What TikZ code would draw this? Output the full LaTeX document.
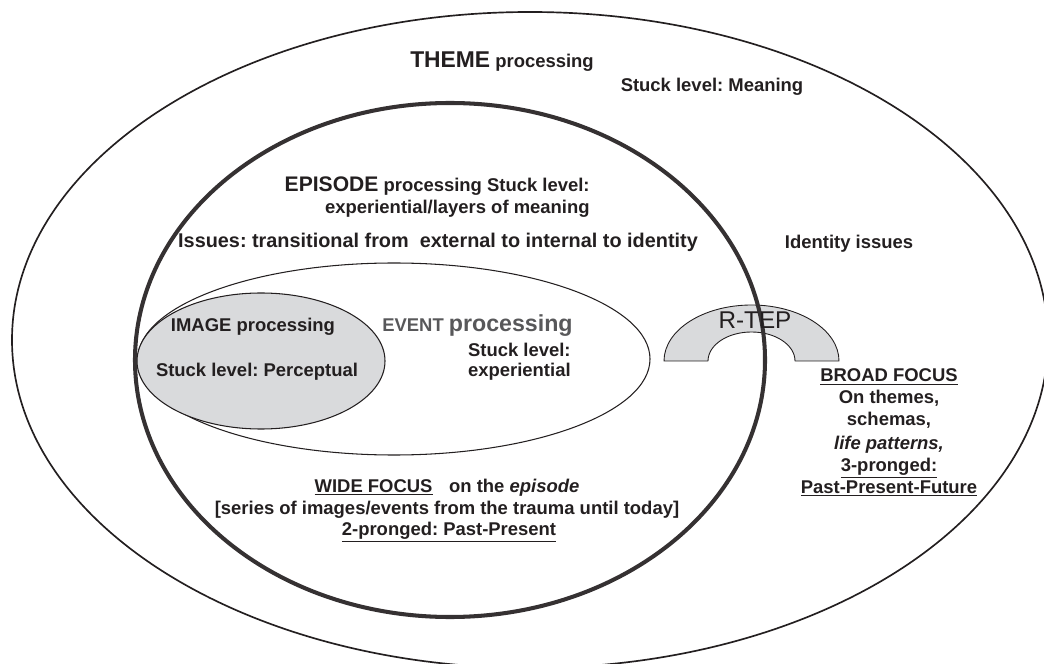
\documentclass[tikz,border=0pt]{standalone}
\usepackage{fontspec}
\setmainfont{Liberation Sans}
\frenchspacing
\definecolor{inkdark}{RGB}{35,31,32}
\definecolor{imggray}{RGB}{217,218,220}
\definecolor{eventgray}{RGB}{88,88,90}

\begin{document}
\begin{tikzpicture}[x=0.02cm,y=0.02cm,line cap=round,line join=round,
  txt/.style={font=\fontsize{10.5}{12.6}\selectfont\bfseries,text=inkdark,inner sep=0pt,anchor=base},
  ring/.style={draw=inkdark,line width=0.95pt},
  thickring/.style={draw=inkdark!92,line width=2.3pt},
  thinring/.style={draw=inkdark,line width=0.6pt}]
\useasboundingbox (0,0) rectangle (1044,663);
\coordinate (themec) at (530,323);
\coordinate (episodec) at (450,303);
\coordinate (eventc) at (394,304);
\coordinate (imagec) at (261,302);
\coordinate (rtepc) at (751.5,302);
% rings, inner ones drawn over
\draw[ring] (themec) ellipse [x radius=518,y radius=328];
\draw[thinring] (eventc) ellipse [x radius=256,y radius=96];
\draw[thinring,fill=imggray] (imagec) ellipse [x radius=124,y radius=68];
\draw[draw=inkdark,line width=0.5pt,fill=imggray] ([xshift=-87.5*0.02cm]rtepc) arc[start angle=180,end angle=0,x radius=87.5,y radius=56]
  -- ([xshift=43.5*0.02cm]rtepc) arc[start angle=0,end angle=180,x radius=43.5,y radius=29] -- cycle;
\draw[thickring] (episodec) ellipse [x radius=315,y radius=257];
% theme level
\node[txt] (theme) at (502,595) {{\fontsize{13}{15}\selectfont THEME} processing};
\node[txt] (meaning) at (712,571) {Stuck level: Meaning};
\node[txt] (identity) at (849,414) {Identity issues};
% episode level
\node[txt,anchor=base east] (episode) at (590,471) {{\fontsize{12}{14}\selectfont EPISODE} processing Stuck level:};
\node[txt,anchor=base east] (layers) at (590,449) {experiential/layers of meaning};
\node[txt,font=\fontsize{11.3}{13}\selectfont\bfseries] (issues) at (438,415) {Issues: transitional from\ \ external to internal to identity};
% event and image level
\node[txt,text=eventgray,anchor=base east] (event) at (573,331) {EVENT {\fontsize{13.2}{15}\selectfont processing}};
\node[txt,anchor=base east] (eventstuck) at (571,306) {Stuck level:};
\node[txt,anchor=base east] (experiential) at (571,286) {experiential};
\node[txt] (image) at (253,331) {IMAGE processing};
\node[txt] (perceptual) at (257,286) {Stuck level: Perceptual};
\node[txt,font=\fontsize{13.8}{15}\selectfont] (rtep) at (755,334) {R-TEP};
% focus texts
\node[txt] (broadhead) at (889,281) {\underline{BROAD FOCUS}};
\node[txt] (broadthemes) at (889,259) {On themes,};
\node[txt] (broadschemas) at (889,237) {schemas,};
\node[txt] (broadlife) at (889,214) {\textit{life patterns,}};
\node[txt] (broadprong) at (889,192) {\underline{3-pronged:}};
\node[txt] (broadtime) at (889,170) {\underline{Past-Present-Future}};
\node[txt] (widehead) at (447,171) {\underline{WIDE FOCUS}\hspace{0.9em}on the \textit{episode}};
\node[txt] (wideseries) at (447,149) {[series of images/events from the trauma until today]};
\node[txt] (wideprong) at (449,128) {\underline{2-pronged: Past-Present}};
\end{tikzpicture}
\end{document}
